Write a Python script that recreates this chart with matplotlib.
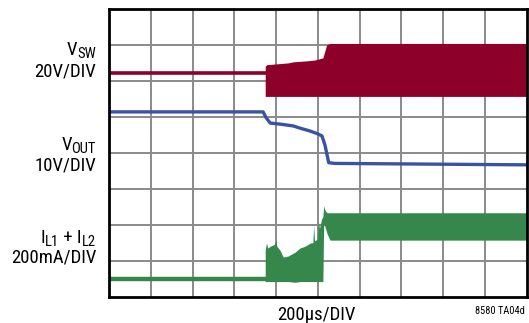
import numpy as np
import matplotlib
matplotlib.use('Agg')
import matplotlib.pyplot as plt

FONT = dict(family='Roboto Condensed')

# time axis in divisions (200us/DIV), amplitude in screen divisions
vsw_line_t = [0.0, 3.74]
vsw_line_v = [6.21, 6.21]
vsw_band_t = [3.74, 3.78, 4.29, 4.41, 4.77, 4.93, 5.12, 5.21, 5.29, 10.0]
vsw_band_hi = [6.40, 6.44, 6.49, 6.52, 6.55, 6.57, 6.63, 6.99, 7.03, 7.03]
vsw_band_lo = [5.56, 5.56, 5.56, 5.56, 5.56, 5.56, 5.56, 5.56, 5.56, 5.56]

vout_t = [0.0, 3.69, 3.76, 3.86, 4.10, 4.41, 4.57, 4.81, 5.00, 5.10, 5.17, 5.22, 5.26, 5.41, 10.0]
vout_v = [5.13, 5.13, 4.97, 4.82, 4.79, 4.74, 4.68, 4.60, 4.52, 4.46, 4.21, 3.94, 3.72, 3.70, 3.66]

il_line_t = [0.0, 3.74]
il_line_v = [0.48, 0.48]
il_band_t = [3.74, 3.77, 3.80, 3.86, 3.96, 3.99, 4.02, 4.10, 4.17, 4.29, 4.46, 4.57, 4.69,
             4.82, 4.88, 4.90, 4.92, 4.99, 5.01, 5.04, 5.09, 5.12, 5.14, 5.17, 5.22, 5.29, 10.0]
il_band_hi = [1.30, 1.49, 1.35, 1.40, 1.45, 1.57, 1.40, 1.28, 1.10, 1.13, 1.24, 1.35, 1.40,
              1.49, 1.50, 1.99, 1.55, 1.60, 2.10, 1.90, 2.16, 2.22, 2.52, 2.40, 2.33, 2.33, 2.33]
il_band_lo = [0.42, 0.42, 0.42, 0.42, 0.42, 0.42, 0.42, 0.42, 0.42, 0.42, 0.40, 0.42, 0.42,
              0.42, 0.42, 0.42, 0.42, 0.42, 0.42, 0.42, 0.42, 0.42, 2.02, 1.95, 1.75, 1.57, 1.57]

red = '#8c0029'
blue = '#3a52a3'
green = '#35874b'

W, H = 529, 323
fig = plt.figure(figsize=(W / 100, H / 100), dpi=100)
ax = fig.add_axes([109 / W, 1 - 296.7 / H, 417.7 / W, 288.2 / H])
ax.set_xlim(0, 10)
ax.set_ylim(0, 8)
for i in range(1, 10):
    ax.axvline(i, color='#8a8a8a', lw=1.4, zorder=1)
for i in range(1, 8):
    ax.axhline(i, color='#8a8a8a', lw=1.4, zorder=1)

ax.plot(vsw_line_t, vsw_line_v, color=red, lw=2.6, zorder=3)
ax.fill_between(vsw_band_t, vsw_band_lo, vsw_band_hi, color=red, lw=0, zorder=3)
ax.plot(vout_t, vout_v, color=blue, lw=2.4, zorder=3)
ax.plot(il_line_t, il_line_v, color=green, lw=3.2, zorder=3)
ax.fill_between(il_band_t, il_band_lo, il_band_hi, color=green, lw=0, zorder=3)

ax.set_xticks([])
ax.set_yticks([])
for s in ax.spines.values():
    s.set_linewidth(2)
    s.set_color('black')
    s.set_zorder(5)

fs = 13.5
fs_sub = 10.5
renderer = fig.canvas.get_renderer()


def label(parts, right, base):
    # parts: list of (text, is_sub), laid out right to left in pixel units
    x = right
    for txt, sub in reversed(parts):
        y = base + (3.5 if sub else 0)
        t = fig.text(x / W, 1 - y / H, txt, ha='right', va='baseline',
                     fontsize=fs_sub if sub else fs, **FONT)
        x -= t.get_window_extent(renderer).width


label([('V', False), ('SW', True)], 96, 55)
label([('20V/DIV', False)], 96, 77)
label([('V', False), ('OUT', True)], 96, 150)
label([('10V/DIV', False)], 96, 170)
label([('I', False), ('L1', True), (' + I', False), ('L2', True)], 96, 243)
label([('200mA/DIV', False)], 96, 263)
fig.text(316 / W, 1 - 320 / H, '200\u00b5s/DIV', ha='center', va='baseline', fontsize=fs, **FONT)
fig.text(525 / W, 1 - 314 / H, '8580 TA04d', ha='right', va='baseline', fontsize=7.5, **FONT)

fig.savefig('out.png', dpi=100)
